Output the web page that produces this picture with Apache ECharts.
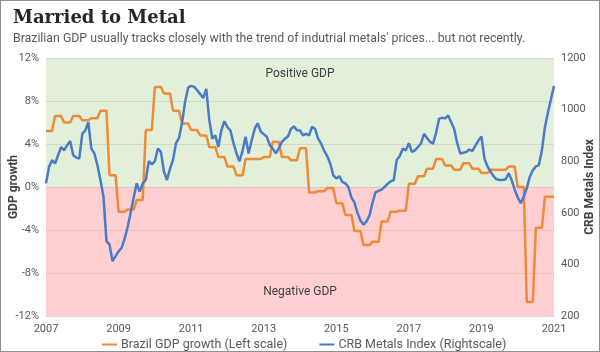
<!DOCTYPE html>
<html>
<head>
<meta charset="utf-8">
<script src="https://cdn.jsdelivr.net/npm/echarts@6/dist/echarts.min.js"></script>
<style>
  html, body { margin: 0; padding: 0; background: #fff; }
  #chart { width: 600px; height: 352px; box-sizing: border-box; border: 1px solid #8f8f8f; }
</style>
</head>
<body>
<div id="chart"></div>
<script>
// 季度GDP同比增速 (%), 2007Q1 - 2020Q4
var gdpQuarterly = [
  5.2, 6.6, 6.0, 6.6,
  6.2, 6.4, 7.1, 1.1,
  -2.3, -2.1, -1.2, 5.3,
  9.3, 8.7, 7.1, 5.9,
  5.3, 4.8, 3.7, 2.8,
  1.9, 1.1, 2.6, 2.6,
  2.8, 4.2, 2.8, 2.5,
  3.6, -0.5, -0.4, -0.1,
  -1.5, -2.6, -4.1, -5.4,
  -5.1, -3.2, -2.3, -2.2,
  0.3, 1.0, 1.7, 2.6,
  2.0, 1.6, 2.2, 1.7,
  1.3, 1.6, 1.6, 1.9,
  0.0, -10.7, -3.8, -0.9
];
// CRB金属指数 月度, 2007-01 - 2021-01
var crbMonthly = [
  714, 778, 804, 791, 823, 855, 842, 862, 878, 823, 814, 810,
  906, 919, 951, 849, 830, 785, 727, 663, 490, 477, 413, 432,
  450, 464, 500, 545, 600, 660, 714, 682, 714, 727, 800, 788,
  800, 849, 836, 760, 727, 770, 805, 870, 890, 950, 1030, 1085,
  1092, 1088, 1075, 1060, 1045, 1080, 960, 887, 900, 855, 920, 955,
  932, 919, 870, 830, 800, 840, 895, 830, 880, 925, 947, 915,
  905, 895, 862, 849, 830, 850, 875, 887, 896, 925, 935, 920,
  919, 900, 906, 900, 934, 925, 887, 868, 840, 820, 791, 745,
  733, 742, 720, 714, 700, 660, 640, 600, 570, 554, 567, 590,
  640, 680, 685, 690, 701, 712, 722, 727, 805, 820, 849, 842,
  870, 836, 842, 855, 868, 906, 890, 875, 868, 910, 965, 968,
  966, 977, 951, 925, 870, 830, 833, 836, 845, 839, 860, 880,
  896, 810, 780, 760, 742, 730, 727, 727, 730, 753, 727, 690,
  660, 637, 663, 695, 740, 765, 780, 785, 842, 932, 990, 1040,
  1092
];
var startYear = 2007;
var leftTicks = [-12, 12, 4];     // min, max, interval
var rightTicks = [200, 1200, 200];

// 月份类别 (X轴)
var months = [];
for (var i = 0; i < crbMonthly.length; i++) {
  var y = startYear + Math.floor(i / 12);
  var m = (i % 12) + 1;
  months.push(y + '-' + (m < 10 ? '0' + m : m));
}
// 季度值铺到月度
var gdpMonthly = [];
for (var i = 0; i < months.length; i++) {
  var q = Math.min(Math.floor(i / 3), gdpQuarterly.length - 1);
  gdpMonthly.push(gdpQuarterly[q]);
}

var myChart = echarts.init(document.getElementById('chart'));
var txt = '#595959';
myChart.setOption({
  animation: false,
  title: [{
    text: 'Married to Metal',
    left: 7, top: 3,
    textStyle: { fontFamily: 'DejaVu Serif', fontWeight: 'bold', fontSize: 18, color: '#262626' }
  }, {
    text: "Brazilian GDP usually tracks closely with the trend of indutrial metals' prices... but not recently.",
    left: 7, top: 27,
    textStyle: { fontFamily: 'Roboto', fontWeight: 'normal', fontSize: 12.3, color: '#595959' }
  }],
  legend: {
    top: 332,
    left: 96,
    itemWidth: 15, itemHeight: 2, itemGap: 32,
    icon: 'rect',
    textStyle: { fontFamily: 'Roboto', fontSize: 12.5, color: txt, padding: [0, 0, 0, -1] },
    data: ['Brazil GDP growth (Left scale)', 'CRB Metals Index (Rightscale)']
  },
  grid: { left: 45, right: 45, top: 57, bottom: 35, outerBoundsMode: 'none' },
  xAxis: {
    type: 'category',
    boundaryGap: false,
    data: months,
    axisLine: { show: false },
    axisTick: { show: false },
    axisLabel: {
      interval: 23,
      margin: 8,
      fontFamily: 'Roboto', fontSize: 11, color: txt,
      formatter: function (v) { return v.slice(0, 4); }
    },
    splitLine: { show: false }
  },
  yAxis: [{
    type: 'value',
    min: leftTicks[0], max: leftTicks[1], interval: leftTicks[2],
    name: 'GDP growth',
    nameLocation: 'middle',
    nameMoveOverlap: false,
    nameGap: 26,
    nameTextStyle: { fontFamily: 'Roboto', fontWeight: 'bold', fontSize: 12, color: '#404040' },
    axisLabel: { formatter: function (v) { return v + '%'; }, fontFamily: 'Roboto', fontSize: 11, color: txt, margin: 7 },
    axisLine: { show: false },
    axisTick: { show: false },
    splitLine: { lineStyle: { color: '#d9d9d9', width: 1 } }
  }, {
    type: 'value',
    min: rightTicks[0], max: rightTicks[1], interval: rightTicks[2],
    name: 'CRB Metals Index',
    nameLocation: 'middle',
    nameMoveOverlap: false,
    nameGap: 30,
    nameRotate: 90,
    nameTextStyle: { fontFamily: 'Roboto', fontWeight: 'bold', fontSize: 12, color: '#404040' },
    axisLabel: { formatter: function (v) { return String(v); }, fontFamily: 'Roboto', fontSize: 11, color: txt, margin: 7 },
    axisLine: { show: false },
    axisTick: { show: false },
    splitLine: { show: false }
  }],
  series: [{
    name: 'Brazil GDP growth (Left scale)',
    type: 'line',
    yAxisIndex: 0,
    data: gdpMonthly,
    showSymbol: false,
    z: 3,
    itemStyle: { color: '#EE8B38' },
    lineStyle: { color: '#EE8B38', width: 2.5 },
    markArea: {
      silent: true,
      data: [
        [{ yAxis: 0, itemStyle: { color: 'rgba(190,220,170,0.45)' },
           label: { show: true, position: 'insideTop', distance: 10, formatter: 'Positive GDP',
                    fontFamily: 'Roboto', fontSize: 12, color: '#404040' } },
         { yAxis: 12 }],
        [{ yAxis: -12, itemStyle: { color: 'rgba(255,160,165,0.5)' },
           label: { show: true, position: 'insideBottom', distance: 18, formatter: 'Negative GDP',
                    fontFamily: 'Roboto', fontSize: 12, color: '#404040' } },
         { yAxis: 0 }]
      ]
    }
  }, {
    name: 'CRB Metals Index (Rightscale)',
    type: 'line',
    yAxisIndex: 1,
    data: crbMonthly,
    showSymbol: false,
    z: 4,
    itemStyle: { color: '#4A7BC8' },
    lineStyle: { color: '#4A7BC8', width: 2.5 }
  }]
});
</script>
</body>
</html>
